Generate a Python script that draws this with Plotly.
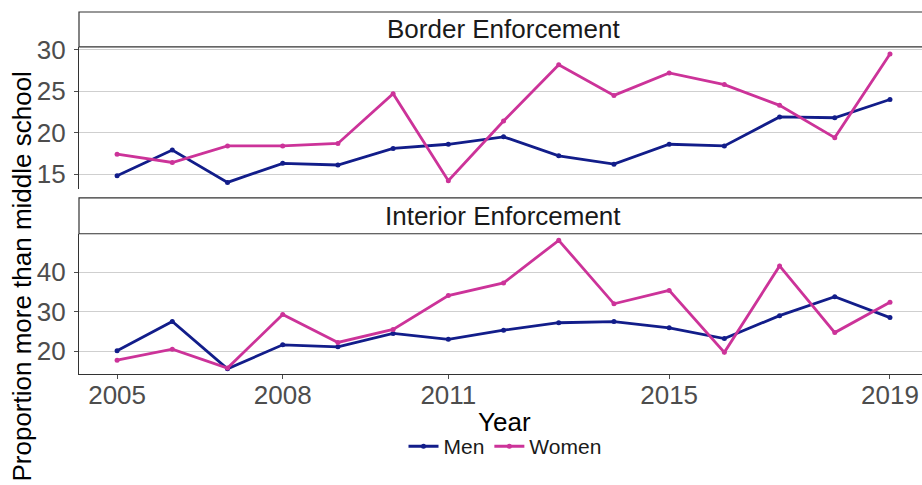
import plotly.graph_objects as go

# Survey years
years = list(range(2005, 2020))

# Share with more than middle-school education (%), border enforcement
border_men = [14.8, 17.9, 14.0, 16.3, 16.1, 18.1, 18.6, 19.5, 17.2, 16.2, 18.6, 18.4, 21.9, 21.8, 24.0]
border_women = [17.4, 16.4, 18.4, 18.4, 18.7, 24.7, 14.2, 21.4, 28.2, 24.5, 27.2, 25.8, 23.3, 19.4, 29.5]

# Share with more than middle-school education (%), interior enforcement
interior_men = [20.1, 27.5, 15.5, 21.6, 21.1, 24.5, 23.0, 25.3, 27.2, 27.5, 25.9, 23.2, 29.0, 33.8, 28.5]
interior_women = [17.7, 20.5, 15.7, 29.3, 22.2, 25.5, 34.1, 37.3, 48.1, 32.0, 35.4, 19.7, 41.6, 24.7, 32.4]

x_ticks = [2005, 2008, 2011, 2015, 2019]
border_ticks = [15, 20, 25, 30]
interior_ticks = [20, 30, 40]

panel_titles = ["Border Enforcement", "Interior Enforcement"]
series_names = ["Men", "Women"]
colors = {"Men": "#121d8a", "Women": "#cc3399"}

FONT = "Arial, Liberation Sans, sans-serif"

fig = go.Figure()

panels = [
    ("x", "y", border_men, border_women),
    ("x2", "y2", interior_men, interior_women),
]
for i, (xa, ya, men, women) in enumerate(panels):
    for name, vals in zip(series_names, [men, women]):
        fig.add_trace(go.Scatter(
            x=years, y=vals, name=name, xaxis=xa, yaxis=ya,
            mode="lines+markers",
            line=dict(color=colors[name], width=2.8),
            marker=dict(color=colors[name], size=5),
            showlegend=(i == 0),
            legendgroup=name,
        ))

# Layout geometry (pixels)
W, H = 922, 485
ML, MT, MB, MR = 79, 10, 111, 0
plot_h = H - MT - MB
plot_w = W - ML - MR


def py(pix):
    """Pixel row -> paper y."""
    return (H - MB - pix) / plot_h


def px(pix):
    """Pixel column -> paper x."""
    return (pix - ML) / plot_w


tick_font = dict(family=FONT, size=26, color="#4d4d4d")
x_range = [2004.31, 2019.58]

common_y = dict(
    showgrid=True, gridcolor="#cfcfcf", gridwidth=1,
    showline=True, linecolor="#333333", linewidth=1.2,
    ticks="outside", ticklen=4, tickcolor="#4d4d4d", tickwidth=1,
    tickfont=tick_font, zeroline=False, ticklabelstandoff=3,
)

fig.update_layout(
    width=W, height=H,
    margin=dict(l=ML, r=MR, t=MT, b=MB),
    paper_bgcolor="white", plot_bgcolor="white",
    font=dict(family=FONT),
    xaxis=dict(domain=[0, 1], anchor="y", range=x_range, matches="x2",
               showticklabels=False, showgrid=False, showline=False,
               zeroline=False, ticks=""),
    yaxis=dict(domain=[py(188), py(45)], anchor="x", range=[13.2, 30.36],
               tickvals=border_ticks, **common_y),
    xaxis2=dict(domain=[0, 1], anchor="y2", range=x_range,
                tickvals=x_ticks, showgrid=False,
                showline=True, linecolor="#333333", linewidth=1.2,
                ticks="outside", ticklen=4, tickcolor="#4d4d4d",
                tickfont=tick_font, zeroline=False, ticklabelstandoff=-6),
    yaxis2=dict(domain=[0, py(233)], anchor="x2", range=[14.2, 49.76],
                tickvals=interior_ticks, **common_y),
    legend=dict(orientation="h", x=px(505), xanchor="center",
                y=py(447), yanchor="middle",
                font=dict(family=FONT, size=21, color="#1a1a1a"),
                itemwidth=30, bgcolor="rgba(0,0,0,0)"),
    showlegend=True,
)

# Facet strips
strips = [(10, 45, panel_titles[0]), (197, 233, panel_titles[1])]
for top, bot, title in strips:
    fig.add_shape(type="rect", xref="paper", yref="paper",
                  x0=0, x1=1.02, y0=py(bot), y1=py(top),
                  line=dict(color="#333333", width=1.2),
                  fillcolor="white", layer="above")
    fig.add_annotation(text=title, xref="paper", yref="paper",
                       x=px(503), y=py((top + bot) / 2),
                       xanchor="center", yanchor="middle", showarrow=False,
                       font=dict(family=FONT, size=26, color="#1a1a1a"))

# Axis titles
fig.add_annotation(text="Year", xref="paper", yref="paper",
                   x=px(504), y=py(422), xanchor="center", yanchor="middle",
                   showarrow=False,
                   font=dict(family=FONT, size=26, color="black"))
fig.add_annotation(text="Proportion more than middle school", xref="paper",
                   yref="paper", x=px(22), y=py(276), textangle=-90,
                   xanchor="center", yanchor="middle", showarrow=False,
                   font=dict(family=FONT, size=26, color="black"))

fig.write_html("out.html")
